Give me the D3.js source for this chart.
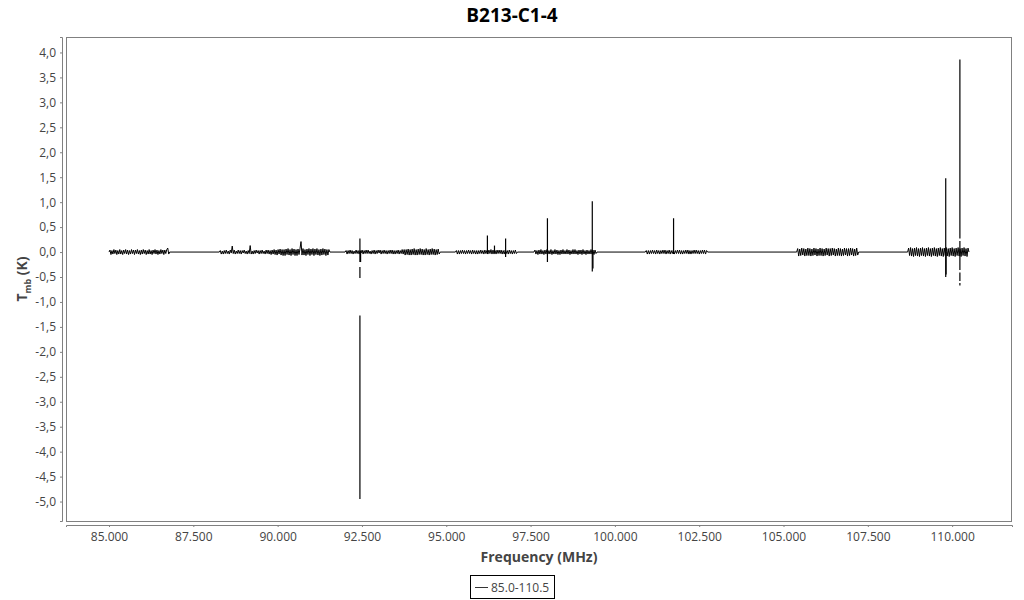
<!DOCTYPE html>
<html><head><meta charset="utf-8">
<script src="https://cdn.jsdelivr.net/npm/d3@7"></script>
<style>
body{margin:0;background:#fff;}
text{font-family:"Open Sans","Noto Sans",sans-serif;}
</style></head>
<body>
<svg id="c" width="1024" height="600"></svg>
<script>
const title = "B213-C1-4";
const legendLabel = "85.0-110.5";
const xTicks = [85, 87.5, 90, 92.5, 95, 97.5, 100, 102.5, 105, 107.5, 110];
const yTicks = [4, 3.5, 3, 2.5, 2, 1.5, 1, 0.5, 0, -0.5, -1, -1.5, -2, -2.5, -3, -3.5, -4, -4.5, -5];
const xDomain = [83.725, 111.775];
const yDomain = [-5.39, 4.31];

// spectral windows: start/end frequency (MHz)
const segStart = [85.0, 88.27, 92.0, 95.27, 97.6, 100.9, 105.39, 108.68];
const segEnd   = [86.8, 91.55, 94.82, 97.11, 99.47, 102.75, 107.23, 110.5];
// channel values (K) per window
const seg1 = [0,.04,-.05,.03,-.04,.05,-.03,.04,-.05,.03,-.04,.05,-.04,.03,-.05,.04,-.03,.05,-.04,.04,-.05,.03,-.04,.05,-.03,.04,-.05,.04,-.03,.05,-.04,.03,-.05,.04,-.04,.05,-.03,.04,-.05,.03,-.04,.05,-.04,.03,-.05,.04,-.03,.05,-.04,.04,-.05,.03,-.04,.05,-.03,.04,-.05,.04,-.03,.05,.08,-.04,0];
const seg2 = [0,.03,-.04,.02,-.04,.03,-.03,.04,-.03,.02,-.04,.04,-.02,.12,-.03,.04,-.04,.02,-.03,.04,-.03,.03,-.04,.03,-.02,.04,-.03,.02,-.04,.03,-.03,.13,-.04,.02,-.04,.03,-.03,.04,-.02,.03,-.04,.03,-.03,.04,-.03,.02,-.04,.04,-.03,.04,-.04,.03,-.05,.04,-.04,.05,-.05,.04,-.06,.05,-.04,.06,-.06,.05,-.07,.05,-.07,.06,-.05,.07,-.06,.05,-.07,.07,-.05,.06,-.07,.05,-.07,.06,-.05,.07,.21,-.06,.07,-.06,.05,-.07,.06,-.05,.07,-.07,.06,-.05,.07,-.07,.06,-.05,.07,-.06,.05,-.07,.06,-.06,.07,-.05,.06,-.07,.05,-.06,.05,0];
const seg3 = [0,.03,-.04,.03,-.03,.04,-.03,.03,-.04,.02,-.03,.04,-.03,.03,-.04,.03,-.02,.04,-.04,.03,-.03,.04,-.03,.04,-.03,.02,-.04,.03,-.03,.04,-.04,.03,-.03,.04,-.02,.04,-.04,.03,-.03,.04,-.03,.03,-.04,.03,-.03,.04,-.03,.04,-.04,.03,-.04,.03,-.03,.04,-.04,.03,-.03,.05,-.04,.05,-.06,.05,-.05,.06,-.06,.05,-.06,.06,-.05,.07,-.06,.05,-.06,.06,-.05,.07,-.05,.06,-.06,.05,-.06,.07,-.05,.05,-.06,.06,-.05,.07,-.05,.06,-.06,.05,-.05,.06,-.04,0];
const seg4 = [0,.03,-.04,.03,-.04,.03,-.03,.04,-.03,.03,-.04,.03,-.03,.04,-.03,.03,-.04,.04,-.03,.03,-.04,.03,-.04,.03,-.03,.04,-.03,.03,-.04,.04,-.03,.03,-.04,.04,-.03,.05,-.04,.04,-.04,.03,-.04,.04,-.03,.04,-.03,.04,-.04,.03,-.04,.04,-.03,.03,-.04,.04,-.03,.03,-.04,.03,-.03,.04,-.03,0];
const seg5 = [0,.04,-.04,.03,-.05,.04,-.04,.05,-.04,.03,-.05,.04,-.04,.05,-.04,.03,-.04,.05,-.05,.03,-.04,.05,-.04,.04,-.05,.03,-.05,.04,-.04,.05,-.04,.03,-.04,.05,-.04,.04,-.05,.03,-.04,.05,-.04,.05,-.04,.03,-.05,.04,-.04,.04,-.05,.05,-.04,.03,-.05,.04,-.04,.03,-.04,.05,-.04,.04,-.05,.04,-.03,0];
const seg6 = [0,.03,-.04,.03,-.04,.03,-.03,.04,-.03,.03,-.04,.04,-.03,.03,-.04,.03,-.03,.04,-.03,.04,-.04,.03,-.03,.04,-.04,.03,-.03,.04,-.04,.03,-.03,.04,-.03,.04,-.04,.03,-.04,.03,-.03,.04,-.03,.04,-.04,.03,-.04,.03,-.03,.04,-.03,.04,-.03,.03,-.04,.03,-.03,.04,-.03,.04,-.04,.03,0];
const seg7 = [0,.07,-.08,.06,-.07,.08,-.06,.07,-.08,.06,-.07,.08,-.07,.07,-.08,.06,-.07,.08,-.06,.07,-.08,.06,-.07,.08,-.07,.07,-.08,.06,-.07,.08,-.06,.07,-.08,.07,-.07,.08,-.06,.07,-.08,.06,-.07,.08,-.07,.07,-.08,.06,-.07,.08,-.06,.07,-.08,.07,-.07,.08,-.06,.07,-.08,.06,-.07,.08,-.06,0];
const seg8 = [0,.08,-.07,.09,-.08,.07,-.09,.08,-.07,.09,-.08,.07,-.09,.08,-.07,.09,-.08,.07,-.09,.08,-.07,.09,-.08,.07,-.09,.08,-.07,.09,-.08,.07,-.09,.08,-.07,.09,-.08,.07,-.09,.08,-.07,.09,-.08,.07,-.09,.08,-.07,.09,-.08,.07,-.09,.08,-.07,.09,-.08,.07,-.09,.08,-.07,.09,-.08,.07,-.09,.08,0];
const segValues = [seg1, seg2, seg3, seg4, seg5, seg6, seg7, seg8];

// strong lines: frequency (MHz) and the sequence of intensities (K) drawn at that channel (null = gap)
const lineFreq = [92.44, 92.46, 96.22, 96.43, 96.76, 98.0, 99.33, 99.35, 101.74, 109.81, 109.82, 110.23];
const lineVals = [
  [0, 0.27, -0.2, null, -0.3, -0.52, null, -1.27, -4.95],
  [0, -0.2],
  [0, 0.33, -0.04],
  [0, 0.13],
  [0, 0.27, -0.1],
  [0, 0.68, -0.2],
  [0, 1.02, -0.39],
  [0, -0.33],
  [0, 0.68, -0.04],
  [0, 1.48, -0.5],
  [0, -0.45],
  [3.86, 0.27, null, 0.22, -0.36, null, -0.41, -0.58, null, -0.62, -0.67]
];

const svg = d3.select("#c");
const L = 66, R = 1012, T = 37, B = 521;
const x = d3.scaleLinear().domain(xDomain).range([L, R]);
const y = d3.scaleLinear().domain(yDomain).range([B, T]);
const grey = "#808080", txt = "#444";

// plot outline
svg.append("rect").attr("x", L + 0.5).attr("y", T + 0.5).attr("width", R - L - 1).attr("height", B - T)
  .attr("fill", "none").attr("stroke", grey).attr("stroke-width", 1);

// axes
const yAxis = d3.axisLeft(y).tickValues(yTicks).tickSize(2).tickPadding(4)
  .tickFormat(d => d3.format(".1f")(d).replace("−", "-").replace(".", ","));
const gy = svg.append("g").attr("transform", `translate(${L - 4},0)`).call(yAxis);
const xAxis = d3.axisBottom(x).tickValues(xTicks).tickSize(2).tickPadding(5)
  .tickFormat(d3.format(".3f"));
const gx = svg.append("g").attr("transform", `translate(0,${B + 4})`).call(xAxis);
[gx, gy].forEach(g => {
  g.select(".domain").attr("stroke", grey);
  g.selectAll(".tick line").attr("stroke", grey);
  g.selectAll(".tick text").attr("fill", txt).style("font-size", "12px")
    .style("font-family", "'Open Sans','Noto Sans',sans-serif");
});

// spectrum
const pts = [];
segValues.forEach((vals, s) => {
  const n = vals.length;
  vals.forEach((v, i) => pts.push([segStart[s] + (segEnd[s] - segStart[s]) * i / (n - 1), v]));
});
const line = d3.line().defined(d => d[1] !== null).x(d => x(d[0])).y(d => y(d[1]));
svg.append("path").datum(pts).attr("d", line).attr("fill", "none")
  .attr("stroke", "#000").attr("stroke-width", 1);
lineFreq.forEach((f, k) => {
  svg.append("path").datum(lineVals[k].map(v => [f, v])).attr("d", line)
    .attr("fill", "none").attr("stroke", "#000").attr("stroke-width", 1.2);
});

// titles
svg.append("text").attr("x", 512).attr("y", 22).attr("text-anchor", "middle")
  .style("font-size", "19px").style("font-weight", "bold").attr("fill", "#000").text(title);
svg.append("text").attr("x", (L + R) / 2).attr("y", 562).attr("text-anchor", "middle")
  .style("font-size", "14px").style("font-weight", "bold").attr("fill", txt).text("Frequency (MHz)");
const yl = svg.append("text").attr("transform", `translate(27,${(T + B) / 2}) rotate(-90)`)
  .attr("text-anchor", "middle").style("font-size", "14px").style("font-weight", "bold").attr("fill", txt);
yl.append("tspan").text("T");
yl.append("tspan").attr("dy", 4).style("font-size", "9px").text("mb");
yl.append("tspan").attr("dy", -4).text(" (K)");

// legend
const lg = svg.append("g");
lg.append("rect").attr("x", 470.5).attr("y", 575.5).attr("width", 84).attr("height", 23)
  .attr("fill", "#fff").attr("stroke", "#000");
lg.append("line").attr("x1", 475).attr("x2", 488).attr("y1", 587.5).attr("y2", 587.5)
  .attr("stroke", "#000").attr("stroke-width", 0.8);
lg.append("text").attr("x", 491).attr("y", 592).style("font-size", "12px").attr("fill", txt).text(legendLabel);
</script>
</body></html>
